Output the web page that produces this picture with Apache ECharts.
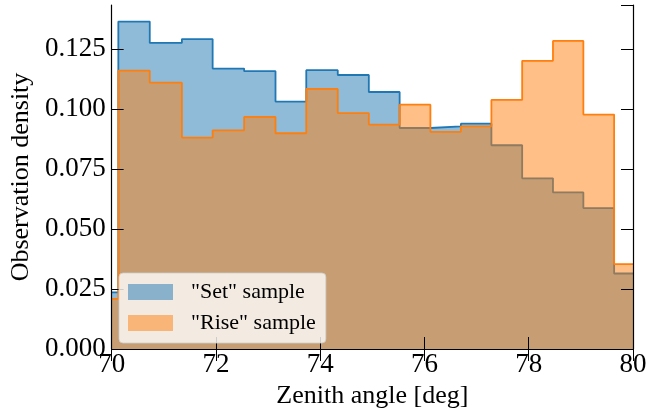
<!DOCTYPE html>
<html>
<head>
<meta charset="utf-8">
<script src="https://cdn.jsdelivr.net/npm/echarts@6/dist/echarts.min.js"></script>
<style>
html,body{margin:0;padding:0;background:#fff;}
#chart{width:668px;height:414px;}
</style>
</head>
<body>
<div id="chart"></div>
<script>
// Bin left edges (deg); first bin is clipped at the axis start (70)
const binEdges = [70, 70.128, 70.731, 71.347, 71.937, 72.541, 73.143, 73.733, 74.337, 74.933,
  75.524, 76.114, 76.699, 77.284, 77.874, 78.465, 79.048, 79.638];
const axisEnd = 80;
// Observation density per bin
const setValues = [0.0236, 0.1366, 0.1277, 0.1293, 0.1170, 0.1159, 0.1032, 0.1163, 0.1143, 0.1072,
  0.0922, 0.0929, 0.0940, 0.0850, 0.0712, 0.0653, 0.0588, 0.0315];
const riseValues = [0.0209, 0.1161, 0.1111, 0.0882, 0.0912, 0.0968, 0.0900, 0.1085, 0.0984, 0.0936,
  0.1019, 0.0906, 0.0929, 0.1039, 0.1202, 0.1285, 0.0978, 0.0354];
const seriesNames = ['"Set" sample', '"Rise" sample'];
const xTicks = [70, 72, 74, 76, 78, 80];

function stepData(vals) {
  const d = binEdges.map((e, i) => [e, vals[i]]);
  d.push([axisEnd, vals[vals.length - 1]]);
  return d;
}

const font = 'Liberation Serif';
const chart = echarts.init(document.getElementById('chart'), null, {renderer: 'canvas'});
const tickStyle = {show: true, inside: true, length: 12, lineStyle: {color: '#000', width: 1}};
const lineStyleAxis = {show: true, lineStyle: {color: '#000', width: 1.2}};

chart.setOption({
  animation: false,
  grid: {left: 108, right: 35, top: 5, bottom: 62, containLabel: false},
  xAxis: [{
    type: 'value', min: 70, max: 80, interval: 2, position: 'bottom', z: 10,
    axisLine: lineStyleAxis, axisTick: tickStyle, splitLine: {show: false},
    axisLabel: {fontFamily: font, fontSize: 27, color: '#000', margin: 2,
      formatter: v => xTicks.includes(v) ? String(v) : ''},
    name: 'Zenith angle [deg]', nameLocation: 'middle', nameGap: 34,
    nameTextStyle: {fontFamily: font, fontSize: 26, color: '#000'}
  }, {
    type: 'value', min: 70, max: 80, interval: 2, position: 'top', z: 10,
    axisLine: lineStyleAxis, axisTick: tickStyle, splitLine: {show: false},
    axisLabel: {show: false}
  }],
  yAxis: [{
    type: 'value', min: 0, max: 0.1435, interval: 0.025, position: 'left', z: 10,
    axisLine: lineStyleAxis, axisTick: tickStyle, splitLine: {show: false},
    axisLabel: {fontFamily: font, fontSize: 27, color: '#000', margin: 6, showMaxLabel: false,
      formatter: v => v.toFixed(3)},
    name: 'Observation density', nameLocation: 'middle', nameGap: 71,
    nameTextStyle: {fontFamily: font, fontSize: 26, color: '#000'}
  }, {
    type: 'value', min: 0, max: 0.1435, interval: 0.025, position: 'right', z: 10,
    axisLine: lineStyleAxis, axisTick: tickStyle, splitLine: {show: false},
    axisLabel: {show: false}
  }],
  legend: {
    left: 119, top: 273, orient: 'vertical', z: 20,
    itemWidth: 45, itemHeight: 16, itemGap: 9,
    padding: [8, 10, 9, 9],
    backgroundColor: 'rgba(255,255,255,0.8)',
    borderColor: 'rgba(204,204,204,0.8)', borderWidth: 1, borderRadius: 4,
    textStyle: {fontFamily: font, fontSize: 22, color: '#000', padding: [0, 0, 0, 13]},
    data: [
      {name: seriesNames[0], icon: 'rect', itemStyle: {color: 'rgba(31,119,180,0.5)', borderWidth: 0}},
      {name: seriesNames[1], icon: 'rect', itemStyle: {color: 'rgba(255,127,14,0.5)', borderWidth: 0}}
    ]
  },
  series: [{
    name: seriesNames[0], type: 'line', step: 'end', xAxisIndex: 0, yAxisIndex: 0, z: 2,
    data: stepData(setValues), showSymbol: false, symbol: 'none',
    itemStyle: {color: '#1f77b4'},
    lineStyle: {color: '#1f77b4', width: 1.8},
    areaStyle: {color: 'rgba(31,119,180,0.5)', opacity: 1, origin: 'start'}
  }, {
    name: seriesNames[1], type: 'line', step: 'end', xAxisIndex: 0, yAxisIndex: 0, z: 3,
    data: stepData(riseValues), showSymbol: false, symbol: 'none',
    itemStyle: {color: '#ff7f0e'},
    lineStyle: {color: '#ff7f0e', width: 1.8},
    areaStyle: {color: 'rgba(255,127,14,0.5)', opacity: 1, origin: 'start'}
  }]
});
</script>
</body>
</html>
